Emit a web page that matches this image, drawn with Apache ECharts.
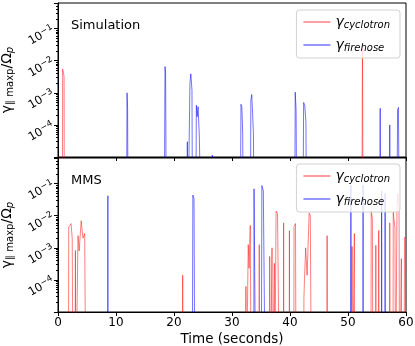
<!DOCTYPE html>
<html>
<head>
<meta charset="utf-8">
<script src="https://cdn.jsdelivr.net/npm/echarts@6/dist/echarts.min.js"></script>
<style>
html, body { margin: 0; padding: 0; background: #fff; }
#chart { width: 415px; height: 346px; }
</style>
</head>
<body>
<div id="chart"></div>
<script>
// value used where the growth rate drops away, far below the axis floor
const F = 1e-8

const xTicks = [0, 10, 20, 30, 40, 50, 60]
const seriesNames = ['cyclotron', 'firehose']
const panelTitles = ['Simulation', 'MMS']

// [time (s), gamma]
const simCyclotron = [
  [0.75, F], [0.8, 5.5e-3], [0.95, 4e-3], [1.05, 3.2e-3], [1.1, F],
  [52.4, F], [52.45, 3e-4], [52.5, 3e-2], [52.6, F],
]
const simFirehose = [
  [11.8, F], [11.9, 1e-3], [12.0, 3.3e-4], [12.1, F],
  [18.3, F], [18.45, 6.6e-3], [18.55, 4.4e-3], [18.7, F],
  [22.25, F], [22.3, 3e-5], [22.35, F],
  [22.65, F], [22.75, 1.9e-3], [22.9, 3.9e-3], [23.1, 1.2e-3], [23.2, F],
  [23.75, F], [23.85, 4.1e-4], [24.0, 1.8e-4], [24.15, 3.7e-4], [24.35, 5.5e-5], [24.6, 5.7e-5], [24.8, F],
  [26.55, F], [26.6, 1.15e-5], [26.65, F],
  [31.4, F], [31.55, 4.4e-4], [31.7, 3.5e-4], [31.85, 5e-5], [31.95, F],
  [33.15, F], [33.25, 5.8e-4], [33.4, 8.9e-4], [33.55, 2.3e-4], [33.7, 5e-5], [33.8, F],
  [40.8, F], [40.9, 1.05e-3], [41.05, 3e-4], [41.2, F],
  [42.2, F], [42.35, 5e-4], [42.55, 4e-4], [42.75, 1.2e-4], [42.85, F],
  [55.45, F], [55.55, 3.3e-4], [55.65, F],
  [57.1, F], [57.2, 1e-4], [57.3, F],
  [58.4, F], [58.55, 3e-4], [58.7, 3.5e-4], [58.85, F],
]
const mmsCyclotron = [
  [1.8, F], [1.85, 4.4e-3], [2.05, 5e-3], [2.25, 5.7e-3], [2.45, 2e-3], [2.6, F],
  [2.95, F], [3.0, 8.3e-4], [3.05, F],
  [3.3, F], [3.45, 2.4e-3], [3.65, 8e-4], [4.0, 7e-3], [4.3, 2e-3], [4.6, 2.8e-3], [4.8, F],
  [21.45, F], [21.5, 1.4e-4], [21.55, F],
  [32.35, F], [32.4, 6.3e-5], [32.45, F],
  [32.75, F], [32.8, 1.26e-3], [32.95, 2.3e-4], [33.15, 5e-3], [33.3, F],
  [34.65, F], [34.7, 1.26e-3], [34.75, F],
  [36.45, F], [36.5, 5.4e-4], [36.6, F],
  [36.85, F], [36.9, 1e-3], [36.95, F],
  [37.25, F], [37.3, 3.3e-4], [37.35, F],
  [37.55, F], [37.6, 1.4e-2], [37.85, 1.2e-2], [38.1, 1.1e-2], [38.2, F],
  [38.85, F], [38.9, 6e-3], [38.95, F],
  [39.85, F], [39.9, 3.4e-3], [39.95, F],
  [40.65, F], [40.7, 4.6e-3], [40.95, 5.7e-3], [41.05, F],
  [42.35, F], [42.4, 2.7e-5], [42.5, 1.1e-4], [42.7, 1e-3], [42.95, 1.4e-4], [43.3, 1.2e-2], [43.5, 1e-2], [43.7, F],
  [46.35, F], [46.4, 2.4e-3], [46.45, F],
  [50.65, F], [50.7, 1.1e-3], [50.75, F],
  [51.05, F], [51.1, 2.8e-3], [51.15, F],
  [53.95, F], [54.0, 1.5e-2], [54.2, 8e-3], [54.3, F],
  [54.75, F], [54.8, 1.2e-3], [54.85, F],
  [55.25, F], [55.3, 3.5e-3], [55.35, F],
  [57.15, F], [57.2, 6e-3], [57.25, F],
  [57.75, F], [57.8, 1.3e-2], [58.1, 4e-3], [58.2, F],
  [58.35, F], [58.45, 2e-2], [58.6, 4.8e-2], [58.8, 2e-2], [58.9, F],
  [59.15, F], [59.2, 4.6e-4], [59.25, F],
  [59.65, F], [59.75, 2.1e-3], [60, 2.1e-3],
]
const mmsFirehose = [
  [8.55, F], [8.6, 4.2e-2], [8.65, F],
  [23.15, F], [23.25, 4.4e-2], [23.45, 3.5e-2], [23.6, F],
  [33.75, F], [33.8, 6.9e-2], [34.05, 6e-2], [34.1, F],
  [35.05, F], [35.15, 8.7e-2], [35.4, 6e-2], [35.55, 6.5e-2], [35.75, F],
  [50.45, F], [50.5, 9e-2], [50.55, F],
  [52.55, F], [52.6, 9e-2], [52.65, F],
  [55.75, F], [55.8, 6e-2], [55.85, F],
  [56.35, F], [56.4, 5e-2], [56.45, F],
]

const FONT = 'DejaVu Sans'
const RED = 'rgba(255,0,0,0.5)'
const BLUE = 'rgba(0,0,255,0.55)'

function powLabel(v) {
  const e = Math.round(Math.log10(v))
  if (Math.abs(Math.log10(v) - e) > 1e-6 || e <= -5 || e >= 0) return ''
  return '{b|10}{e|−' + Math.abs(e) + '}'
}

const grids = [
  { left: 58, top: 3, width: 348, height: 154 },
  { left: 58, top: 158, width: 348, height: 154 },
]

const xAxes = grids.map((g, i) => ({
  type: 'value',
  gridIndex: i,
  min: 0,
  max: 60,
  interval: 10,
  name: i === 1 ? 'Time (seconds)' : '',
  nameLocation: 'middle',
  nameGap: 20,
  nameTextStyle: { fontFamily: FONT, fontSize: 13.5, color: '#000' },
  axisLine: { lineStyle: { color: '#000', width: 1 } },
  axisTick: { length: 4, lineStyle: { color: '#000' } },
  axisLabel: { show: i === 1, fontFamily: FONT, fontSize: 12, color: '#000', margin: 5 },
  splitLine: { show: false },
}))

const yAxes = grids.map((g, i) => ({
  type: 'log',
  logBase: 10,
  gridIndex: i,
  min: 1e-5,
  max: 0.63,
  name: '{g|γ}{s|∥ maxp}{g|/Ω}{p|p}',
  nameLocation: 'middle',
  nameRotate: 90,
  nameGap: 41,
  nameTextStyle: {
    color: '#000',
    rich: {
      g: { fontFamily: FONT, fontSize: 14, color: '#000', lineHeight: 17 },
      s: { fontFamily: FONT, fontSize: 10, color: '#000', verticalAlign: 'bottom', lineHeight: 17 },
      p: { fontFamily: FONT, fontSize: 10, fontStyle: 'italic', color: '#000', verticalAlign: 'bottom', lineHeight: 17 },
    },
  },
  axisLine: { show: true, lineStyle: { color: '#000', width: 1 } },
  axisTick: { length: 4, lineStyle: { color: '#000' } },
  minorTick: { show: true, splitNumber: 9, length: 2, lineStyle: { color: '#000' } },
  axisLabel: {
    color: '#000',
    rotate: 30,
    margin: 5,
    showMaxLabel: false,
    showMinLabel: false,
    formatter: powLabel,
    rich: {
      b: { fontFamily: FONT, fontSize: 11.5, color: '#000', lineHeight: 14 },
      e: { fontFamily: FONT, fontSize: 8.5, color: '#000', verticalAlign: 'top', lineHeight: 14 },
    },
  },
  splitLine: { show: false },
  minorSplitLine: { show: false },
}))

function lineSeries(name, data, color, idx) {
  return {
    name: name,
    type: 'line',
    xAxisIndex: idx,
    yAxisIndex: idx,
    data: data,
    showSymbol: false,
    symbol: 'none',
    clip: true,
    color: color,
    lineStyle: { width: 1, color: color },
  }
}

const legends = [10, 164].map(top => ({
  data: seriesNames,
  orient: 'vertical',
  right: 15,
  top: top,
  icon: 'rect',
  itemWidth: 27,
  itemHeight: 1.5,
  itemGap: 8,
  padding: [5, 10, 5, 7],
  backgroundColor: 'rgba(255,255,255,0.8)',
  borderColor: '#d0d0d0',
  borderWidth: 1,
  borderRadius: 3,
  selectedMode: false,
  formatter: n => '{g|γ}{s|' + n + '}',
  textStyle: {
    rich: {
      g: { fontFamily: FONT, fontSize: 14, fontStyle: 'italic', color: '#000', lineHeight: 16 },
      s: { fontFamily: FONT, fontSize: 10, fontStyle: 'italic', color: '#000', verticalAlign: 'bottom', lineHeight: 16 },
    },
  },
}))

const chart = echarts.init(document.getElementById('chart'))
chart.setOption({
  animation: false,
  title: panelTitles.map((t, i) => ({
    text: t,
    left: 66,
    top: i === 0 ? 14 : 169,
    textStyle: { fontFamily: FONT, fontSize: 13, fontWeight: 'normal', color: '#000' },
  })),
  grid: grids.map(g => Object.assign({
    show: true,
    borderColor: '#000',
    borderWidth: 1,
    backgroundColor: 'transparent',
    containLabel: false,
    outerBoundsMode: 'none',
  }, g)),
  legend: legends,
  xAxis: xAxes,
  yAxis: yAxes,
  series: [
    lineSeries('cyclotron', simCyclotron, RED, 0),
    lineSeries('firehose', simFirehose, BLUE, 0),
    lineSeries('cyclotron', mmsCyclotron, RED, 1),
    lineSeries('firehose', mmsFirehose, BLUE, 1),
  ],
})
</script>
</body>
</html>
